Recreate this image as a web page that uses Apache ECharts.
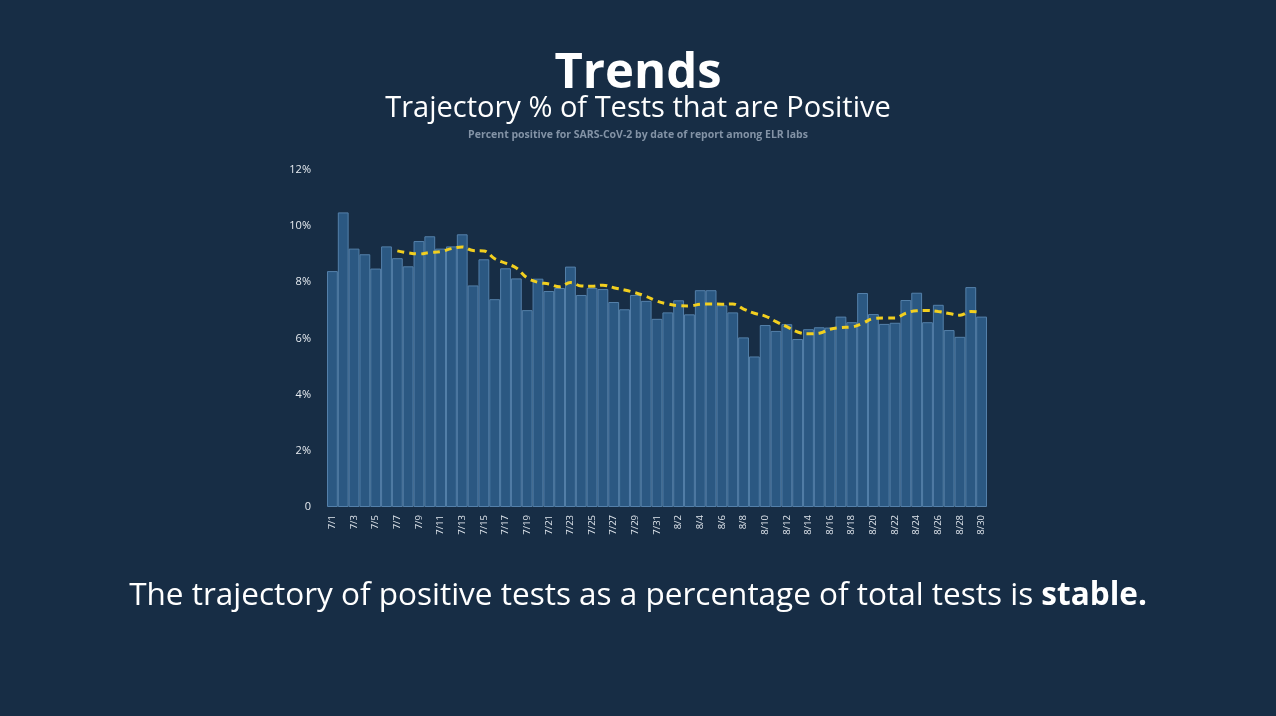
<!DOCTYPE html>
<html>
<head>
<meta charset="utf-8">
<title>Trends</title>
<script src="https://cdn.jsdelivr.net/npm/echarts@6/dist/echarts.min.js"></script>
<style>
  html, body { margin: 0; padding: 0; background: #172d45; }
  #chart { width: 1276px; height: 716px; }
</style>
</head>
<body>
<div id="chart"></div>
<script>
// dates 7/1 .. 8/30
const days = [
  '7/1','7/2','7/3','7/4','7/5','7/6','7/7','7/8','7/9','7/10',
  '7/11','7/12','7/13','7/14','7/15','7/16','7/17','7/18','7/19','7/20',
  '7/21','7/22','7/23','7/24','7/25','7/26','7/27','7/28','7/29','7/30',
  '7/31','8/1','8/2','8/3','8/4','8/5','8/6','8/7','8/8','8/9',
  '8/10','8/11','8/12','8/13','8/14','8/15','8/16','8/17','8/18','8/19',
  '8/20','8/21','8/22','8/23','8/24','8/25','8/26','8/27','8/28','8/29',
  '8/30'
];

// daily percent positive
const dailyPct = [
  8.40, 10.49, 9.20, 9.00, 8.49, 9.28, 8.86, 8.57, 9.47, 9.64,
  9.20, 9.28, 9.71, 7.89, 8.82, 7.40, 8.50, 8.14, 7.01, 8.13,
  7.69, 7.80, 8.56, 7.55, 7.80, 7.76, 7.30, 7.04, 7.55, 7.34,
  6.70, 6.93, 7.36, 6.86, 7.72, 7.72, 7.18, 6.93, 6.04, 5.36,
  6.48, 6.27, 6.51, 5.98, 6.33, 6.40, 6.39, 6.78, 6.58, 7.62,
  6.87, 6.52, 6.56, 7.37, 7.63, 6.58, 7.20, 6.30, 6.06, 7.83,
  6.78
];

// 7-day average (starts 7/7)
const avgPct = [
  null, null, null, null, null, null, 9.12, 9.05, 9.01, 9.06,
  9.09, 9.20, 9.26, 9.13, 9.12, 8.84, 8.68, 8.51, 8.16, 8.00,
  7.94, 7.84, 7.99, 7.87, 7.86, 7.90, 7.81, 7.73, 7.63, 7.50,
  7.33, 7.23, 7.17, 7.16, 7.22, 7.23, 7.22, 7.23, 7.05, 6.90,
  6.80, 6.60, 6.42, 6.23, 6.17, 6.19, 6.33, 6.39, 6.41, 6.54,
  6.71, 6.73, 6.73, 6.90, 6.99, 7.00, 6.96, 6.89, 6.83, 6.96,
  6.93
];

const yTicks = [0, 2, 4, 6, 8, 10, 12];

const chart = echarts.init(document.getElementById('chart'));

const font = '"Open Sans", "Noto Sans", sans-serif';

const option = {
  backgroundColor: '#172d45',
  animation: false,
  title: [
    {
      text: 'Trends',
      left: 'center',
      top: 45,
      textStyle: { color: '#ffffff', fontSize: 49, fontWeight: 'bold', fontFamily: font }
    },
    {
      text: 'Trajectory % of Tests that are Positive',
      left: 'center',
      top: 89,
      textStyle: { color: '#ffffff', fontSize: 29, fontWeight: 'normal', fontFamily: font }
    },
    {
      text: 'Percent positive for SARS-CoV-2 by date of report among ELR labs',
      left: 'center',
      top: 125,
      textStyle: { color: '#8393a6', fontSize: 10.5, fontWeight: 'bold', fontFamily: font }
    },
    {
      text: '{a|The trajectory of positive tests as a percentage of total tests is }{b|stable.}',
      left: 'center',
      top: 575,
      textStyle: {
        fontWeight: 'normal',
        rich: {
          a: { color: '#ffffff', fontSize: 31.5, fontWeight: 'normal', fontFamily: font },
          b: { color: '#ffffff', fontSize: 31.5, fontWeight: 'bold', fontFamily: font }
        }
      }
    }
  ],
  grid: {
    left: 327,
    right: 289,
    top: 170,
    bottom: 209
  },
  xAxis: {
    type: 'category',
    data: days,
    axisLine: { show: false },
    axisTick: { show: false },
    axisLabel: {
      interval: 1,
      rotate: 90,
      color: '#dfe5ec',
      fontSize: 9.5,
      fontFamily: font,
      margin: 8
    }
  },
  yAxis: {
    type: 'value',
    min: yTicks[0],
    max: yTicks[yTicks.length - 1],
    interval: 2,
    splitLine: { show: false },
    axisLine: { show: false },
    axisTick: { show: false },
    axisLabel: {
      color: '#e6ebf0',
      fontSize: 11,
      fontFamily: font,
      margin: 16,
      formatter: function (v) {
        return v === 0 ? '0' : v + '%';
      }
    }
  },
  series: [
    {
      name: 'Percent positive',
      type: 'bar',
      data: dailyPct,
      barCategoryGap: '0%',
      itemStyle: {
        color: '#2b5882',
        borderColor: '#5480aa',
        borderWidth: 1
      },
      z: 1
    },
    {
      name: '7-day average',
      type: 'line',
      data: avgPct,
      smooth: 0.4,
      symbol: 'none',
      connectNulls: false,
      lineStyle: {
        color: '#f2cf1f',
        width: 3,
        type: [7, 5]
      },
      z: 3
    }
  ]
};

chart.setOption(option);
</script>
</body>
</html>
